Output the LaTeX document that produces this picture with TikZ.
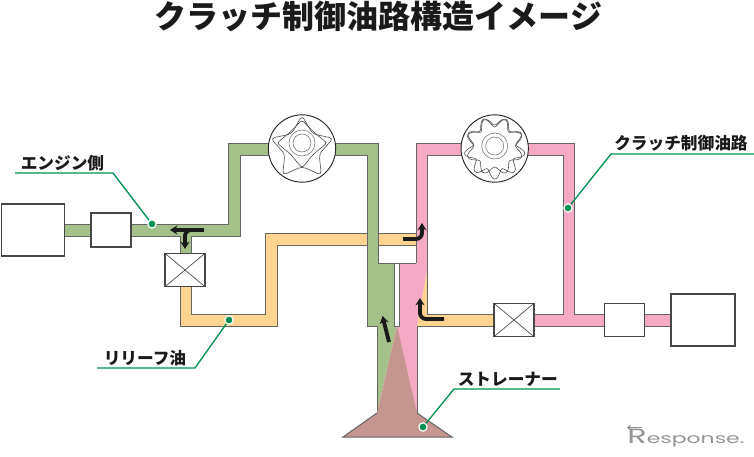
\documentclass[tikz,border=0pt]{standalone}
\usepackage{fontspec}
\setmainfont{Noto Sans CJK JP}
\newfontfamily\logofont{Poppins}
\usetikzlibrary{arrows.meta}
\definecolor{pgreen}{HTML}{A5C18A}
\definecolor{ppink}{HTML}{F5A9C5}
\definecolor{porange}{HTML}{FFD490}
\definecolor{pbrown}{HTML}{C59590}
\definecolor{edge}{HTML}{666666}
\definecolor{lead}{HTML}{00904F}
\definecolor{ink}{HTML}{1A1A1A}
\tikzset{
  x=0.75pt,y=-0.75pt,
  pipeedge/.style={draw=edge,line width=0.75pt,line join=miter},
  boxnode/.style={draw=edge!70!black,fill=white,line width=0.8pt,inner sep=0pt,outer sep=0pt},
  rotor/.style={draw=black!70,line width=0.45pt,smooth cycle,domain=0:358,samples=120},
  starrotor/.style={draw=black!70,line width=0.45pt,rounded corners=3pt},
  ring/.style={draw=black!55,line width=0.4pt},
  pumpnode/.style={circle,draw=black!85,fill=white,line width=0.7pt,inner sep=0pt,minimum size=50.5pt},
  leader/.style={draw=lead,line width=1pt},
  dotnode/.style={circle,fill=lead,draw=white,line width=0.9pt,inner sep=0pt,minimum size=6.2pt},
  flow/.style={draw=ink,line width=2.9pt,rounded corners=4.5pt,-{Stealth[length=5.5pt,width=6.8pt]}},
  lab/.style={anchor=west,font=\fontsize{12.5}{14}\selectfont\bfseries,text=ink,inner sep=0pt},
}
\begin{document}
\begin{tikzpicture}
\useasboundingbox (0,0) rectangle (754,457);
% title
\node[font=\fontsize{24}{28}\selectfont\bfseries,text=ink,inner sep=0pt] (title) at (378.5,16) {クラッチ制御油路構造イメージ};
% orange pipes
\fill[porange] (180,287)--(180,326)--(277,326)--(277,245)--(416,245)--(416,233)--(265,233)--(265,314)--(191,314)--(191,287)--cycle;
\draw[pipeedge] (180,287)--(180,326)--(277,326)--(277,245)--(367,245);
\draw[pipeedge] (367,233)--(265,233)--(265,314)--(191,314)--(191,287);
\draw[pipeedge] (378,233)--(416,233);
% pink and lower orange
\fill[porange] (427,270)--(427,314)--(500,314)--(500,326)--(417,326)--cycle;
\fill[ppink] (416,143)--(574,143)--(574,314)--(671,314)--(671,326)--(534,326)--(534,314)--(563,314)--(563,155)--(427,155)--(427,270)--(417,326)--(417,413)--(397,413)--(397,325)--(399,325)--(399,263)--(416,263)--cycle;
\draw[pipeedge] (416,263)--(416,143)--(574,143)--(574,314)--(671,314);
\draw[pipeedge] (671,326)--(534,326);
\draw[pipeedge] (534,314)--(563,314)--(563,155)--(427,155)--(427,314)--(494,314);
\draw[pipeedge] (494,326)--(417,326)--(417,413);
% green
\fill[pgreen] (64,224)--(228,224)--(228,143)--(378,143)--(378,263)--(394,263)--(394,326)--(397,326)--(377,413)--(377,326)--(367,326)--(367,155)--(240,155)--(240,236)--(191,236)--(191,253)--(180,253)--(180,236)--(64,236)--cycle;
\draw[pipeedge] (64,224)--(228,224)--(228,143)--(378,143)--(378,263);
\draw[pipeedge] (64,236)--(180,236)--(180,253);
\draw[pipeedge] (191,253)--(191,236)--(240,236)--(240,155)--(367,155)--(367,326)--(377,326)--(377,413);
% slit
\fill[white] (394,263) rectangle (399,326);
\draw[pipeedge] (394,263)--(394,326)--(399,326)--(399,263);
% white box edge
\draw[pipeedge] (378,263)--(416,263);
\draw[pipeedge] (378,245)--(416,245);
\draw[pipeedge] (416,233)--(416,245);
% strainer
\fill[pbrown] (397,326)--(417,413)--(452,437)--(343,437)--(377,413)--cycle;
\draw[pipeedge] (377,413)--(343,437)--(452,437)--(417,413);
% boxes
\node[boxnode,minimum width=47pt,minimum height=39pt] (engine) at (33,230) {};
\node[boxnode,minimum width=30pt,minimum height=25.5pt] (filterL) at (111,230) {};
\node[boxnode,minimum width=30pt,minimum height=25pt] (valveL) at (185,270) {};
\draw[edge!70!black,line width=0.5pt] (valveL.north west)--(valveL.south east) (valveL.north east)--(valveL.south west);
\node[boxnode,minimum width=30pt,minimum height=25pt] (valveR) at (514,320) {};
\draw[edge!70!black,line width=0.5pt] (valveR.north west)--(valveR.south east) (valveR.north east)--(valveR.south west);
\node[boxnode,minimum width=30.5pt,minimum height=25pt] (filterR) at (624.5,320) {};
\node[boxnode,minimum width=48pt,minimum height=39pt] (clutch) at (703,320) {};
% pumps
\node[pumpnode] (pumpL) at (302,148.5) {};
\begin{scope}[shift={(302,148.5)}]
\draw[starrotor] (270:33)--(306:18)--(342:33)--(18:18)--(54:33)--(90:18)--(126:33)--(162:18)--(198:33)--(234:18)--cycle;
\end{scope}
\begin{scope}[shift={(302,143)}]
\draw[starrotor,rounded corners=2pt] (270:23)--(315:16)--(0:25)--(45:16)--(90:25)--(135:16)--(180:25)--(225:16)--cycle;
\end{scope}
\draw[ring] (302,143) circle[radius=13] (302,143) circle[radius=9];
\node[pumpnode] (pumpR) at (494.7,148.5) {};
\draw[rotor] plot ({494.7+(26+4.5*cos(9*(\x-90)))*cos(\x)},{148.5+(26+4.5*cos(9*(\x-90)))*sin(\x)});
\draw[rotor] plot ({494.7+(25+4*cos(8*\x+180))*cos(\x)},{146+(25+4*cos(8*\x+180))*sin(\x)});
\draw[ring] (494.7,146) circle[radius=13] (494.7,146) circle[radius=9];
% flow arrows
\coordinate (f1a) at (204,230); \coordinate (f1b) at (170,230);
\draw[flow] (f1a)--(f1b);
\coordinate (f1c) at (192,230); \coordinate (f1d) at (185,249);
\draw[flow] (f1c)--(185,230)--(f1d);
\coordinate (f2a) at (403,239); \coordinate (f2b) at (422,223);
\draw[flow] (f2a)--(422,239)--(f2b);
\coordinate (f3a) at (444,319); \coordinate (f3b) at (420,298);
\draw[flow] (f3a)--(420,319)--(f3b);
\coordinate (f4a) at (389,342); \coordinate (f4b) at (382.5,316);
\draw[flow] (f4a)--(f4b);
% leaders
\node[dotnode] (d1) at (152,224) {};
\node[dotnode] (d2) at (229,320) {};
\node[dotnode] (d3) at (568,208) {};
\node[dotnode] (d4) at (423,427) {};
\coordinate (a1) at (15,173); \coordinate (b1) at (113,173);
\coordinate (a2) at (97,368); \coordinate (b2) at (195,368);
\coordinate (a3) at (754,154); \coordinate (b3) at (611,154);
\coordinate (a4) at (560,389); \coordinate (b4) at (454,389);
\draw[leader] (a1)--(b1)--(d1);
\draw[leader] (a2)--(b2)--(d2);
\draw[leader] (a3)--(b3)--(d3);
\draw[leader] (a4)--(b4)--(d4);
% labels
\node[lab] (l1) at (20.5,163) {エンジン側};
\node[lab] (l2) at (103.5,358) {リリーフ油};
\node[lab] (l3) at (614,143.5) {クラッチ制御油路};
\node[lab] (l4) at (457.5,379) {ストレーナー};
% logo
\node[anchor=base west,inner sep=0pt,text=black!42,xscale=1.55,font=\logofont] (logo) at (627,443) {{\fontsize{15.5}{16}\selectfont R}{\fontsize{10.6}{14}\selectfont esponse.}};
\coordinate (logoA) at (642,427.5); \coordinate (logoB) at (627,427.5);
\draw[black!42,line width=1.2pt,-{Stealth[length=3pt,width=4.5pt]}] (logoA)--(logoB);
\end{tikzpicture}
\end{document}
